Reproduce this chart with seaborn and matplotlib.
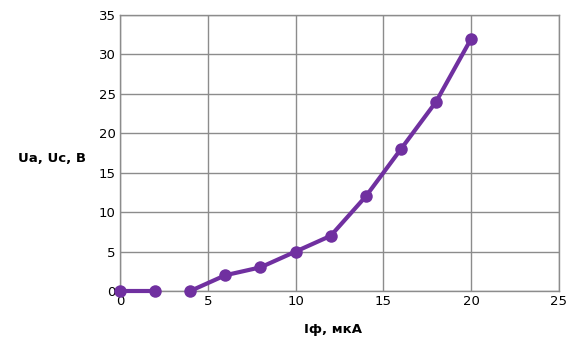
import matplotlib
matplotlib.use("Agg")
import matplotlib.pyplot as plt
import seaborn as sns
import pandas as pd

x_vals = [0, 2, 4, 6, 8, 10, 12, 14, 16, 18, 20]
y_vals = [0, 0, 0, 2, 3, 5, 7, 12, 18, 24, 32]
segments = [0, 0, 1, 1, 1, 1, 1, 1, 1, 1, 1]
x_ticks = [0, 5, 10, 15, 20, 25]
y_ticks = [0, 5, 10, 15, 20, 25, 30, 35]

df = pd.DataFrame({"x": x_vals, "y": y_vals, "seg": segments})

sns.set_style("white")
plt.rcParams['font.family'] = ['DejaVu Sans']
plt.rcParams['text.color'] = 'black'

fig = plt.figure(figsize=(5.79, 3.57), dpi=100)
ax = fig.add_axes([120/579, 1 - 291/357, (559-120)/579, (291-15)/357])

color = "#7030A0"
sns.lineplot(data=df, x="x", y="y", units="seg", estimator=None, ax=ax,
             color=color, linewidth=3, marker="o", markersize=9,
             markeredgewidth=0, legend=False, clip_on=False, zorder=3)

ax.set_xlim(0, 25)
ax.set_ylim(0, 35)
ax.set_xticks(x_ticks)
ax.set_yticks(y_ticks)
ax.grid(True, color="#8c8c8c", linewidth=1)
ax.set_axisbelow(True)
for s in ax.spines.values():
    s.set_color("#8c8c8c")
    s.set_linewidth(1)
ax.tick_params(axis="both", length=0, labelsize=9.5, colors="black", pad=3)
ax.set_xlabel("")
ax.set_ylabel("")
fig.text(52/579, 1 - 158/357, "Ua, Uc, B", ha="center", va="center",
         fontsize=9.5, fontweight="bold", color="black")
fig.text(333/579, 1 - 330/357, "Iф, мкА", ha="center", va="center",
         fontsize=9.5, fontweight="bold", color="black")

fig.savefig("out.png", dpi=100)
